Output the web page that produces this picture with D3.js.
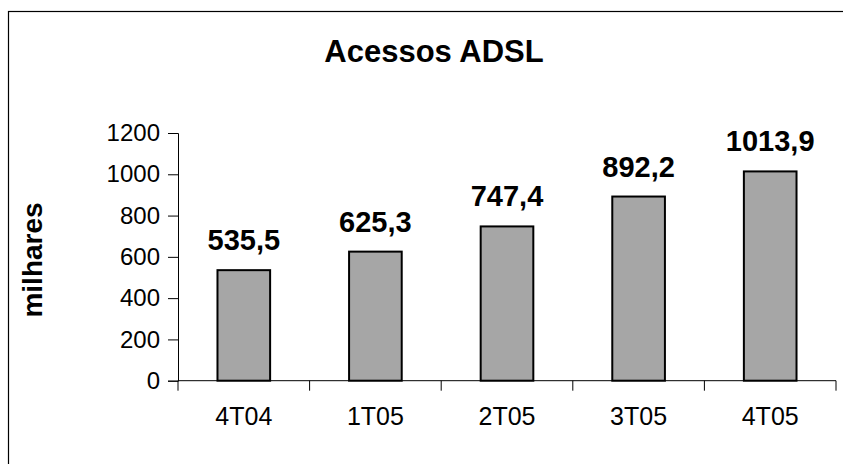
<!DOCTYPE html>
<html><head><meta charset="utf-8">
<script src="https://cdn.jsdelivr.net/npm/d3@7"></script>
<style>body{margin:0;background:#fff}svg{display:block}text{font-family:Arial,"Liberation Sans",sans-serif}</style>
</head><body>
<svg id="c" width="843" height="464"></svg>
<script>
const categories = ["4T04","1T05","2T05","3T05","4T05"];
const values = [535.5, 625.3, 747.4, 892.2, 1013.9];
const valueLabels = ["535,5","625,3","747,4","892,2","1013,9"];
const yTicks = [0,200,400,600,800,1000,1200];
const title = "Acessos ADSL";
const yTitle = "milhares";

const svg = d3.select("#c");
svg.append("rect").attr("x",8.5).attr("y",11.5).attr("width",860).attr("height",470)
  .attr("fill","#fff").attr("stroke","#000").attr("stroke-width",1.2);

const x = d3.scaleBand().domain(categories).range([178,836]).paddingInner(0.6).paddingOuter(0.3);
const y = d3.scaleLinear().domain([0,1200]).range([380.7,133]);

// y axis
const yAxis = d3.axisLeft(y).tickValues(yTicks).tickSize(10).tickPadding(8).tickFormat(d3.format("d"));
const gy = svg.append("g").attr("transform","translate(178,0)").call(yAxis);
gy.select(".domain").attr("stroke","#000");
gy.selectAll(".tick line").attr("stroke","#000");
gy.selectAll("text").attr("font-size",24).attr("fill","#000");

// x axis line with boundary ticks
const step = x.step();
const bounds = d3.range(categories.length+1).map(i => x.range()[0] + i*step);
svg.append("line").attr("x1",178).attr("x2",836).attr("y1",y(0)).attr("y2",y(0)).attr("stroke","#000");
svg.selectAll(".xt").data(bounds).join("line").attr("class","xt")
  .attr("x1",d=>d).attr("x2",d=>d).attr("y1",y(0)).attr("y2",y(0)+10).attr("stroke","#000");
svg.selectAll(".xl").data(categories).join("text").attr("class","xl")
  .attr("x",d=>x(d)+x.bandwidth()/2).attr("y",425).attr("text-anchor","middle")
  .attr("font-size",25).text(d=>d);

// bars
svg.selectAll(".bar").data(values).join("rect").attr("class","bar")
  .attr("x",(d,i)=>x(categories[i])).attr("width",x.bandwidth())
  .attr("y",d=>y(d)).attr("height",d=>y(0)-y(d))
  .attr("fill","#a6a6a6").attr("stroke","#000").attr("stroke-width",2);

svg.selectAll(".vl").data(values).join("text").attr("class","vl")
  .attr("x",(d,i)=>x(categories[i])+x.bandwidth()/2).attr("y",d=>y(d)-20)
  .attr("text-anchor","middle").attr("font-size",29).attr("font-weight","bold")
  .text((d,i)=>valueLabels[i]);

svg.append("text").attr("x",434).attr("y",62).attr("text-anchor","middle")
  .attr("font-size",31).attr("font-weight","bold").text(title);

svg.append("text").attr("transform","translate(42,260) rotate(-90)").attr("text-anchor","middle")
  .attr("font-size",28).attr("font-weight","bold").text(yTitle);
</script>
</body></html>
